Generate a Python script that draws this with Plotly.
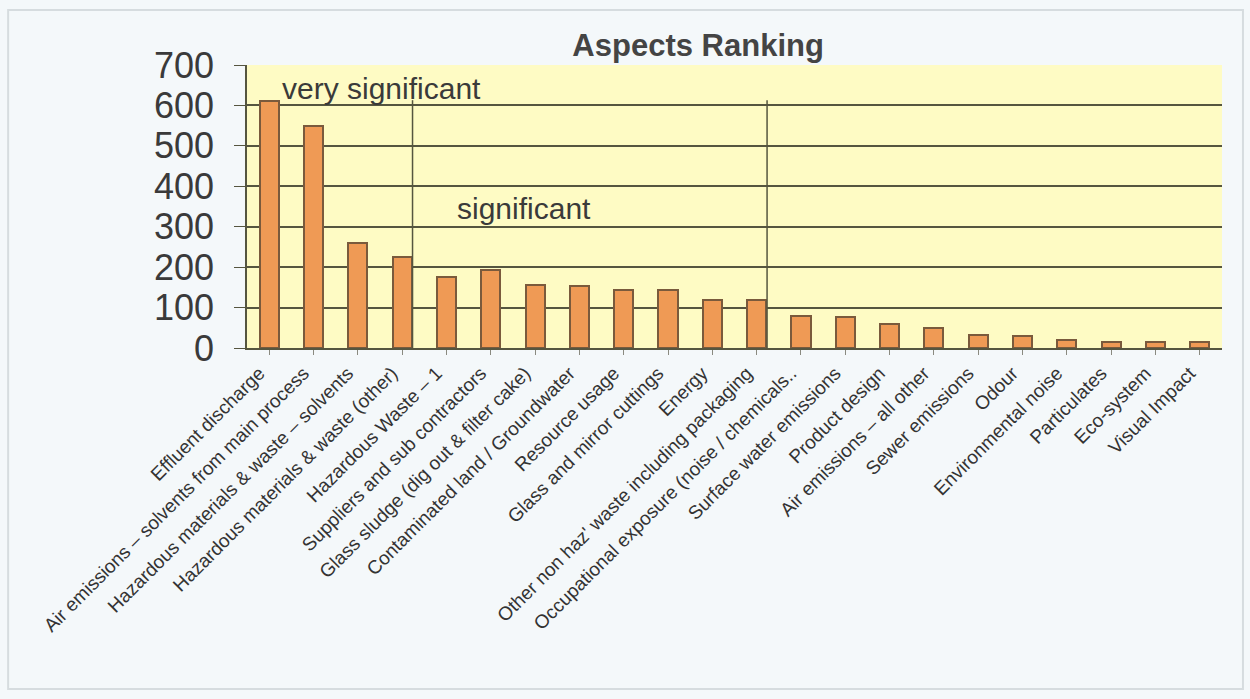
import plotly.graph_objects as go

categories = [
    "Effluent discharge",
    "Air emissions – solvents from main process",
    "Hazardous materials & waste – solvents",
    "Hazardous materials & waste (other)",
    "Hazardous Waste – 1",
    "Suppliers and sub contractors",
    "Glass sludge (dig out & filter cake)",
    "Contaminated land / Groundwater",
    "Resource usage",
    "Glass and mirror cuttings",
    "Energy",
    "Other non haz' waste including packaging",
    "Occupational exposure (noise / chemicals..",
    "Surface water emissions",
    "Product design",
    "Air emissions – all other",
    "Sewer emissions",
    "Odour",
    "Environmental noise",
    "Particulates",
    "Eco-system",
    "Visual Impact",
]
scores = [612, 549, 259, 224, 176, 193, 157, 154, 143, 143, 119, 119,
          80, 77, 59, 49, 32, 30, 20, 15, 15, 16]
y_ticks = [0, 100, 200, 300, 400, 500, 600, 700]
divider_after = [3, 11]
divider_top = 613
zone_labels = ["very significant", "significant"]
zone_label_pos = [(0.25, 643), (4.2, 346)]

BAR_W = 0.43
FONT = "Arial, Liberation Sans, sans-serif"

fig = go.Figure()
fig.add_trace(go.Bar(
    x=list(range(len(categories))),
    y=scores,
    width=BAR_W,
    marker=dict(color="#EF9A55", line=dict(color="#7A5A3C", width=2)),
    hoverinfo="y",
))

shapes = []
for i in divider_after:
    xv = i + BAR_W / 2 + 0.02
    shapes.append(dict(type="line", xref="x", yref="y", x0=xv, x1=xv, y0=0, y1=divider_top,
                       line=dict(color="#55553F", width=1.5)))
# outer frame
shapes.append(dict(type="rect", xref="paper", yref="paper",
                   x0=-0.245, x1=1.0215, y0=-1.205, y1=1.194,
                   line=dict(color="#D6DCDF", width=2), fillcolor="rgba(0,0,0,0)", layer="below"))

annotations = []
for txt, (ax, ay) in zip(zone_labels, zone_label_pos):
    annotations.append(dict(x=ax, y=ay, xref="x", yref="y", text=txt, showarrow=False,
                            xanchor="left", yanchor="middle",
                            font=dict(family=FONT, size=30, color="#3A3A3A")))

fig.update_layout(
    width=1250, height=699,
    margin=dict(l=247, r=28, t=65, b=351),
    paper_bgcolor="#F4F8FA",
    plot_bgcolor="#FEFBC4",
    showlegend=False,
    title=dict(text="<b>Aspects Ranking</b>", x=0.5585, xanchor="center", y=0.935, yanchor="middle",
               font=dict(family=FONT, size=31, color="#444444")),
    shapes=shapes,
    annotations=annotations,
    bargap=0,
)
fig.update_xaxes(
    tickmode="array", tickvals=list(range(len(categories))), ticktext=categories,
    tickangle=-45, tickfont=dict(family=FONT, size=19, color="#333333"),
    range=[-0.5, len(categories) - 0.5],
    showline=True, linecolor="#55553F", linewidth=1.5,
    ticks="outside", tickson="boundaries", ticklen=5, tickcolor="#8A8A80",
    ticklabelstandoff=0, ticklabelshift=-10,
    showgrid=False,
)
fig.update_yaxes(
    range=[0, 700], tickvals=y_ticks,
    tickfont=dict(family=FONT, size=36, color="#3A3A3A"),
    showline=True, linecolor="#55553F", linewidth=1.5,
    ticks="outside", ticklen=11, tickcolor="#55553F",
    ticklabelstandoff=13,
    showgrid=True, gridcolor="#55553F", gridwidth=1.5,
    zeroline=False,
)

fig.write_html("out.html")
